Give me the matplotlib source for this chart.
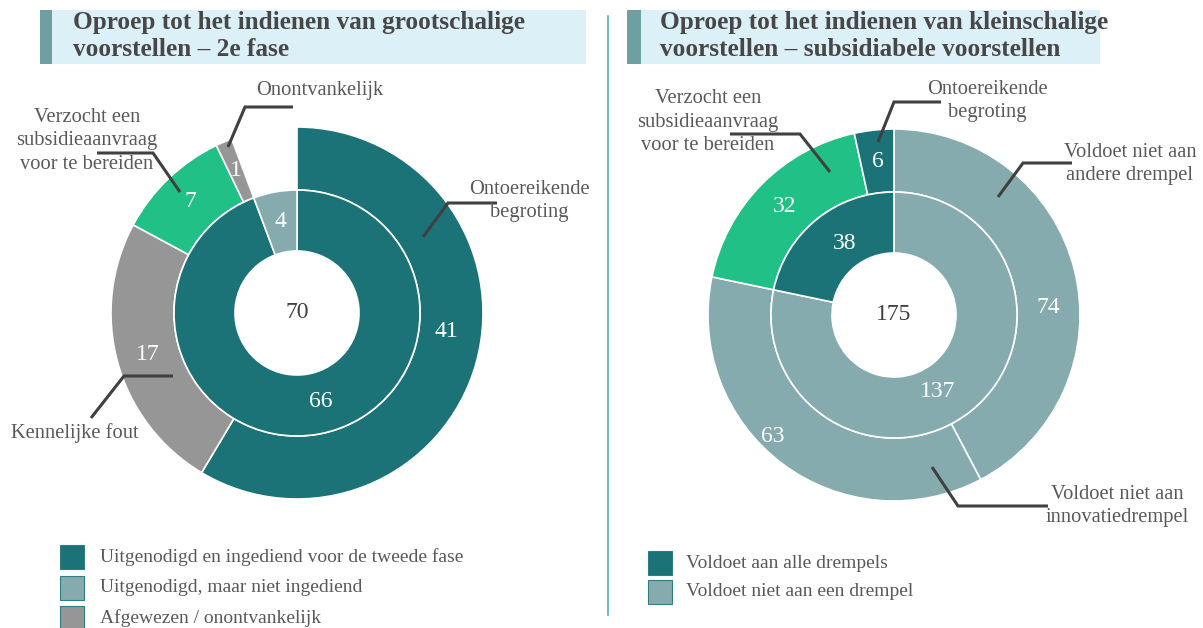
import numpy as np
import matplotlib.pyplot as plt
from matplotlib.patches import Rectangle

plt.rcParams['font.family'] = ['Liberation Serif', 'DejaVu Serif']

W, H = 1203, 628

# colours
teal = '#1B7377'
lteal = '#86ABAE'
green = '#20C087'
grey = '#969696'
txt = '#595959'

# left chart: grootschalige voorstellen, 2e fase
left_title = 'Oproep tot het indienen van grootschalige\nvoorstellen \u2013 2e fase'
left_inner_vals = [66, 4]
left_inner_cols = [teal, lteal]
left_outer_vals = [41, 17, 7, 1, 4]
left_outer_cols = [teal, grey, green, grey, 'none']
left_outer_show = [True, True, True, True, False]
left_total = 70
left_legend = ['Uitgenodigd en ingediend voor de tweede fase',
               'Uitgenodigd, maar niet ingediend',
               'Afgewezen / onontvankelijk']
left_legend_cols = [teal, lteal, grey]

# right chart: kleinschalige voorstellen
right_title = 'Oproep tot het indienen van kleinschalige\nvoorstellen \u2013 subsidiabele voorstellen'
right_inner_vals = [137, 38]
right_inner_cols = [lteal, teal]
right_outer_vals = [74, 63, 32, 6]
right_outer_cols = [lteal, lteal, green, teal]
right_outer_show = [True, True, True, True]
right_total = 175
right_legend = ['Voldoet aan alle drempels', 'Voldoet niet aan een drempel']
right_legend_cols = [teal, lteal]

fig = plt.figure(figsize=(W / 100, H / 100), dpi=100)
ax = fig.add_axes([0, 0, 1, 1])


def py(y):
    # pixel row (from top) -> data y
    return H - y


R_OUT, R_MID, R_IN = 186, 123, 62


def donut(cx, cy, inner, inner_cols, outer, outer_cols, show, total, nudges):
    c = (cx, py(cy))
    wp = dict(edgecolor='white', linewidth=1.2)
    wo, _ = ax.pie(outer, colors=outer_cols, radius=R_OUT, center=c, startangle=90,
                   counterclock=False, wedgeprops=dict(width=R_OUT - R_MID, **wp), frame=True)
    wi, _ = ax.pie(inner, colors=inner_cols, radius=R_MID, center=c, startangle=90,
                   counterclock=False, wedgeprops=dict(width=R_MID - R_IN, **wp), frame=True)
    for w, s in zip(wo, show):
        if not s:
            w.set_edgecolor('none')
    # value labels
    for wedges, vals, r, key in [(wo, outer, (R_OUT + R_MID) / 2, 'o'), (wi, inner, (R_MID + R_IN) / 2, 'i')]:
        for k, (w, v) in enumerate(zip(wedges, vals)):
            if key == 'o' and not show[k]:
                continue
            a = np.deg2rad((w.theta1 + w.theta2) / 2)
            dx, dy = nudges.get((key, k), (0, 0))
            ax.text(c[0] + r * np.cos(a) + dx, c[1] + r * np.sin(a) - dy, str(v),
                    color='white', fontsize=17, ha='center', va='center')
    ax.text(c[0], c[1], str(total), color='#404040', fontsize=17, ha='center', va='center')


donut(297, 313, left_inner_vals, left_inner_cols, left_outer_vals, left_outer_cols,
      left_outer_show, left_total, {('o', 0): (0, -23), ('i', 0): (7, -3)})
donut(894, 315, right_inner_vals, right_inner_cols, right_outer_vals, right_outer_cols,
      right_outer_show, right_total, {('o', 0): (4, 30), ('o', 1): (-28, -2),
                                      ('i', 0): (-15, 5), ('i', 1): (9, 0)})
ax.set_xlim(0, W)
ax.set_ylim(0, H)
ax.set_aspect('equal')
ax.axis('off')

# title boxes
for x0, x1, bar, tx, title in [(40, 586, 12, 73, left_title), (627, 1100, 14, 660, right_title)]:
    ax.add_patch(Rectangle((x0, py(64)), x1 - x0, 54, facecolor='#DCF0F7', edgecolor='none'))
    ax.add_patch(Rectangle((x0, py(64)), bar, 54, facecolor='#6E9FA1', edgecolor='none'))
    ax.text(tx, py(36), title, fontsize=18.2, fontweight='bold', color='#474747',
            ha='left', va='center', linespacing=1.2)

# divider
ax.plot([608, 608], [py(16), py(615)], color='#4FAFB5', lw=1.2)

# callouts
callouts = [
    ('Onontvankelijk', 320, 90, [(228, 147), (245, 107), (293, 107)]),
    ('Verzocht een\nsubsidieaanvraag\nvoor te bereiden', 87, 141, [(180, 192), (153, 153), (97, 153)]),
    ('Ontoereikende\nbegroting', 529, 201, [(423, 237), (448, 203), (497, 203)]),
    ('Kennelijke fout', 75, 433, [(173, 376), (124, 376), (91, 418)]),
    ('Verzocht een\nsubsidieaanvraag\nvoor te bereiden', 708, 122, [(830, 172), (800, 134), (730, 134)]),
    ('Ontoereikende\nbegroting', 987, 101, [(878, 142), (894, 102), (941, 102)]),
    ('Voldoet niet aan\nandere drempel', 1130, 164, [(998, 197), (1023, 163), (1072, 163)]),
    ('Voldoet niet aan\ninnovatiedrempel', 1117, 506, [(932, 467), (958, 506), (1048, 506)]),
]
for label, lx, ly, pts in callouts:
    xs = [p[0] for p in pts]
    ys = [py(p[1]) for p in pts]
    ax.plot(xs, ys, color='#404040', lw=2.2, solid_capstyle='butt', solid_joinstyle='miter')
    ax.text(lx, py(ly), label, fontsize=14.8, color=txt, ha='center', va='center', linespacing=1.33)

# legends
for labels, cols, sx, tx, y0, step in [(left_legend, left_legend_cols, 60, 100, 557, 30.5),
                                       (right_legend, right_legend_cols, 648, 686, 563, 29)]:
    for i, (lab, col) in enumerate(zip(labels, cols)):
        yc = y0 + i * step
        ax.add_patch(Rectangle((sx, py(yc + 12)), 24, 24, facecolor=col, edgecolor='#2E7E80', lw=0.8))
        ax.text(tx, py(yc), lab, fontsize=14, color=txt, ha='left', va='center')

fig.savefig('out.png', dpi=100)
